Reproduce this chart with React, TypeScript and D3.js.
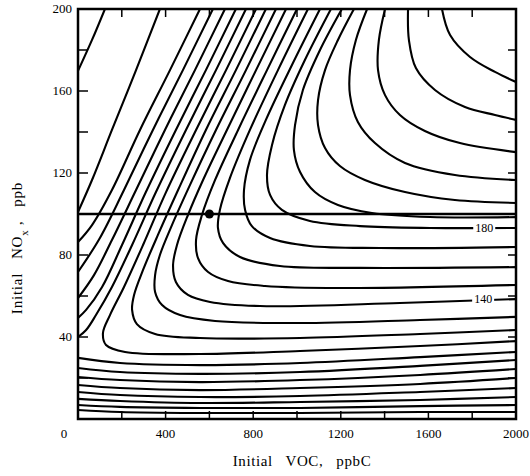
import React from "react";
import * as d3 from "d3";

// ---- axis data ----
const xMajorTicks = [0, 200, 400, 600, 800, 1000, 1200, 1400, 1600, 1800, 2000];
const xTickLabels = [400, 800, 1200, 1600, 2000];
const yMajorTicks = [0, 20, 40, 60, 80, 100, 120, 140, 160, 180, 200];
const yTickLabels = [40, 80, 120, 160, 200];

// ---- ozone isopleths (VOC ppbC, NOx ppb) ----
const iso240 = [[1662, 200], [1699, 187.3], [1790, 176.6], [1904, 169.3], [2000, 164.4]];
const iso230 = [[1507, 200], [1511, 184.9], [1543, 171.2], [1630, 160.5], [1767, 152.2], [1904, 148.3], [2000, 145.9]];
const iso220 = [[1402, 200], [1374, 184.9], [1370, 170.2], [1402, 158], [1470, 148.3], [1584, 140.5], [1744, 134.6], [2000, 130.2]];
const iso210 = [[1320, 200], [1269, 184.9], [1242, 170.2], [1242, 158], [1278, 144.9], [1356, 134.6], [1493, 124.9], [1721, 119], [2000, 116.6]];
const iso200 = [[1260, 200], [1187, 184.9], [1128, 170.2], [1096, 155.6], [1096, 143.4], [1128, 132.2], [1196, 123.4], [1310, 116.6], [1493, 110.7], [1721, 106.8], [2000, 105.4]];
const iso190 = [[1205, 200], [1105, 180], [1027, 160.5], [991, 143.4], [986, 131.2], [1014, 120.5], [1082, 110.7], [1187, 104.4], [1342, 100.5], [1607, 98.5], [2000, 98.5]];
const iso180 = [[1155, 200], [1036, 175.1], [945, 153.2], [886, 133.7], [863, 119], [877, 109.3], [931, 102], [1059, 96.6], [1288, 94.1], [1607, 93.2], [2000, 93.2]];
const iso170 = [[1105, 200], [977, 172.7], [858, 145.9], [785, 126.3], [758, 111.7], [763, 102], [794, 94.1], [877, 88.3], [1059, 84.4], [1379, 83.4], [2000, 83.9]];
const iso160 = [[1050, 200], [913, 170.2], [785, 141], [694, 117.6], [648, 102], [639, 93.2], [662, 85.9], [740, 79], [922, 74.6], [1288, 73.7], [2000, 74.1]];
const iso150 = [[1000, 200], [863, 170.2], [731, 141], [626, 116.6], [566, 99.5], [539, 87.3], [548, 78.5], [594, 71.7], [685, 67.3], [854, 64.9], [1196, 63.9], [2000, 65.4]];
const iso140 = [[950, 200], [813, 170.2], [680, 141], [571, 116.6], [502, 99.5], [452, 84.9], [434, 75.1], [447, 66.8], [502, 60.5], [603, 57.1], [831, 55.1], [1470, 56.6], [2000, 58.5]];
const iso130 = [[904, 200], [767, 170.2], [630, 141], [511, 114.1], [429, 94.6], [374, 80], [352, 70.2], [352, 62], [384, 55.6], [466, 50.7], [626, 47.8], [1014, 46.8], [1562, 48.3], [2000, 49.8]];
const iso120 = [[858, 200], [721, 170.2], [584, 141], [457, 111.7], [365, 89.8], [297, 72.7], [256, 60.5], [247, 53.2], [269, 46.3], [352, 41.5], [557, 39.5], [1014, 39.5], [1562, 41.5], [2000, 43.4]];
const iso110 = [[813, 200], [676, 170.2], [539, 141], [402, 110.7], [297, 84.9], [210, 64.4], [146, 50.7], [114, 42], [128, 36.1], [215, 32.7], [557, 31.7], [1014, 33.2], [1562, 35.6], [2000, 38]];

// upper-left pieces of the lower isopleths (top edge -> NOx axis)
const upper100 = [[767, 200], [630, 170.2], [493, 141], [356, 110.7], [247, 84.9], [155, 64.4], [82, 50.7], [37, 43.4], [0, 40]];
const upper90 = [[721, 200], [584, 170.2], [447, 141], [310, 110.7], [201, 84.9], [110, 64.4], [37, 53.2], [0, 49.3]];
const upper80 = [[671, 200], [534, 170.2], [397, 141], [265, 111.7], [155, 87.3], [73, 70.2], [0, 59]];
const upper70 = [[616, 200], [479, 170.2], [342, 141], [210, 111.7], [100, 88.3], [0, 71.7]];
const upper60 = [[557, 200], [420, 170.2], [283, 141], [155, 111.7], [64, 94.6], [0, 86.3]];
const upper50 = [[374, 200], [265, 170.2], [155, 141], [64, 116.6], [0, 101]];
const upper40 = [[123, 200], [64, 184.9], [0, 169.8]];

// lower pieces (NOx axis -> right edge)
const lowerVOC = [0, 192, 557, 1014, 1562, 2000];
const lower100 = [29.8, 27.3, 26.3, 27.3, 30.2, 32.7];
const lower90 = [24.9, 22.9, 22, 22.9, 25.9, 28.8];
const lower80 = [20.5, 19, 18, 19, 21.5, 24.4];
const lower70 = [16.6, 15.1, 14.1, 15.1, 17.1, 20];
const lower60 = [13.2, 11.7, 10.7, 11.2, 13.2, 15.1];
const lower50 = [9.8, 8.8, 7.8, 8.3, 9.3, 10.7];
const lower40 = [6.8, 5.9, 5.4, 5.4, 6.3, 6.8];
const lower30 = [4.4, 3.4, 2.9, 2.9, 3.4, 3.4];

const fullLines = [iso240, iso230, iso220, iso210, iso200, iso190, iso180, iso170, iso160, iso150, iso140, iso130, iso120, iso110];
const upperLines = [upper100, upper90, upper80, upper70, upper60, upper50, upper40];
const lowerLines = [lower100, lower90, lower80, lower70, lower60, lower50, lower40, lower30];

// contour labels [VOC, NOx, text]
const contourLabels: [number, number, string][] = [
  [1855, 93.2, "180"],
  [1850, 58.5, "140"],
];

// base case reference line and point
const refNOx = 100;
const refPoint = [600, 100];

const W = 530;
const H = 476;
const margin = { left: 78, right: 14, top: 9, bottom: 57 };

export default function App() {
  const x = d3.scaleLinear().domain([0, 2000]).range([margin.left, W - margin.right]);
  const y = d3.scaleLinear().domain([0, 200]).range([H - margin.bottom, margin.top]);
  const line = d3
    .line<number[]>()
    .x((d) => x(d[0]))
    .y((d) => y(d[1]))
    .curve(d3.curveCatmullRom.alpha(0.5));

  const lowerPts = lowerLines.map((ys) => ys.map((v, i) => [lowerVOC[i], v]));
  const allLines = [...fullLines, ...upperLines, ...lowerPts];

  const x0 = x(0), x1 = x(2000), y0 = y(0), y1 = y(200);
  const font = "'Liberation Serif', 'DejaVu Serif', serif";
  const tickLen = 8;

  return (
    <svg width={W} height={H} style={{ position: "absolute", left: 0, top: 0, background: "#fff" }}>
      <defs>
        <clipPath id="plot">
          <rect x={x0} y={y1} width={x1 - x0} height={y0 - y1} />
        </clipPath>
      </defs>
      <rect x={0} y={0} width={W} height={H} fill="#fff" />
      <g clipPath="url(#plot)">
        {allLines.map((pts, i) => (
          <path key={i} d={line(pts) || ""} fill="none" stroke="#000" strokeWidth={2.1} strokeLinejoin="round" />
        ))}
        <line x1={x0} x2={x1} y1={y(refNOx)} y2={y(refNOx)} stroke="#000" strokeWidth={2.5} />
        <circle cx={x(refPoint[0])} cy={y(refPoint[1])} r={4.5} fill="#000" />
        {contourLabels.map(([vx, vy, t], i) => (
          <g key={"cl" + i}>
            <rect x={x(vx) - 11} y={y(vy) - 6} width={22} height={12} fill="#fff" />
            <text x={x(vx)} y={y(vy) + 4} textAnchor="middle" fontFamily={font} fontSize={12} fill="#000">
              {t}
            </text>
          </g>
        ))}
      </g>
      {/* frame */}
      <rect x={x0} y={y1} width={x1 - x0} height={y0 - y1} fill="none" stroke="#000" strokeWidth={2.5} />
      {/* ticks */}
      {xMajorTicks.map((t) => (
        <g key={"xt" + t}>
          <line x1={x(t)} x2={x(t)} y1={y0} y2={y0 - tickLen} stroke="#000" strokeWidth={1.5} />
          <line x1={x(t)} x2={x(t)} y1={y1} y2={y1 + tickLen} stroke="#000" strokeWidth={1.5} />
        </g>
      ))}
      {yMajorTicks.map((t) => (
        <g key={"yt" + t}>
          <line x1={x0} x2={x0 + tickLen + 2} y1={y(t)} y2={y(t)} stroke="#000" strokeWidth={1.5} />
          <line x1={x1} x2={x1 - tickLen} y1={y(t)} y2={y(t)} stroke="#000" strokeWidth={1.5} />
        </g>
      ))}
      {/* tick labels */}
      {xTickLabels.map((t) => (
        <text key={"xl" + t} x={x(t)} y={y0 + 19} textAnchor="middle" fontFamily={font} fontSize={13} fill="#000">
          {t}
        </text>
      ))}
      <text x={x0 - 14} y={y0 + 19} textAnchor="middle" fontFamily={font} fontSize={13} fill="#000">
        0
      </text>
      {yTickLabels.map((t) => (
        <text key={"yl" + t} x={x0 - 6} y={y(t) + 4} textAnchor="end" fontFamily={font} fontSize={13} fill="#000">
          {t}
        </text>
      ))}
      {/* axis titles */}
      <text x={302} y={H - 10} textAnchor="middle" fontFamily={font} fontSize={15} letterSpacing={0.6} fill="#000" xmlSpace="preserve">
        Initial   VOC,   ppbC
      </text>
      <text
        transform={`translate(22, 248) rotate(-90)`}
        textAnchor="middle"
        fontFamily={font}
        fontSize={15}
        letterSpacing={0.8}
        fill="#000"
        xmlSpace="preserve"
      >
        Initial   NO
        <tspan baselineShift="sub" fontSize={11}>x</tspan>
        {" ,   ppb"}
      </text>
    </svg>
  );
}
